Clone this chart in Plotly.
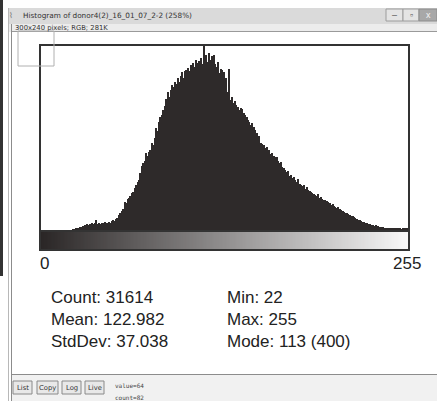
import plotly.graph_objects as go

W, H = 437, 401

# ---- data: histogram counts per gray level (0..255) ----
counts = (
    [0] * 22 +
    [1, 2, 3, 4, 5, 7, 6, 9, 11, 8, 12, 10, 14, 16, 13, 15] +            # 22-37
    [22, 14, 15, 13, 16, 15, 17, 14, 16, 18, 15, 19, 22, 20, 24, 27] +   # 38-53
    [32, 38, 41, 45, 61, 58, 67, 70, 74, 80, 83, 92, 98, 104, 109, 124] +  # 54-69
    [140, 146, 150, 167, 160, 170, 175, 189, 185, 200, 222, 215, 235, 245, 250, 261] +  # 70-85
    [270, 285, 300, 290, 305, 315, 310, 322, 318, 330, 322, 335, 343, 330, 345, 348] +  # 86-101
    [352, 345, 359, 350, 362, 355, 370, 363, 368, 375, 360, 400, 372, 380, 365, 385] +  # 102-117
    [370, 378, 380, 360, 355, 365, 341, 350, 348, 343, 320, 330, 300, 350, 283, 290] +  # 118-133
    [276, 280, 272, 268, 260, 265, 262, 255, 250, 245, 239, 235, 228, 232, 224, 218] +  # 134-149
    [210, 196, 205, 190, 188, 185, 178, 180, 170, 175, 165, 168, 160, 158, 159, 150] +  # 150-165
    [145, 148, 138, 135, 130, 126, 128, 118, 120, 112, 115, 109, 105, 110, 100, 98] +   # 166-181
    [95, 97, 90, 93, 88, 85, 82, 80, 78, 76, 74, 78, 70, 72, 68, 66] +   # 182-197
    [65, 63, 60, 58, 55, 57, 52, 50, 48, 50, 45, 44, 42, 40, 38, 37] +   # 198-213
    [35, 33, 31, 30, 28, 26, 24, 22, 21, 19, 18, 17, 15, 15, 14, 12] +   # 214-229
    [11, 10, 9, 10, 9, 8, 7, 6, 7, 5, 4, 5, 4, 3, 4, 5] +                # 230-245
    [3, 4, 3, 4, 4, 2, 3, 4, 3, 5]                                       # 246-255
)
levels = list(range(256))
range_labels = ["0", "255"]
stats_left = ["Count: 31614", "Mean: 122.982", "StdDev: 37.038"]
stats_right = ["Min: 22", "Max: 255", "Mode: 113 (400)"]
title_text = "Histogram of donor4(2)_16_01_07_2-2 (258%)"
subtitle_text = "300x240 pixels; RGB; 281K"
buttons = ["List", "Copy", "Log", "Live"]
status_lines = ["value=64", "count=82"]


def px(x):
    return x / W


def py(y):
    return 1 - y / H


PLOT_L, PLOT_R, PLOT_T, PLOT_B = 41, 408, 46, 230
GRAD_T, GRAD_B = 232, 249
DARK = "#2e2a2a"

fig = go.Figure()

fig.add_trace(go.Bar(
    x=levels, y=counts, width=1.0,
    marker=dict(color=DARK, line=dict(width=0)),
    xaxis="x", yaxis="y", hoverinfo="x+y", showlegend=False,
))

fig.add_trace(go.Heatmap(
    z=[levels], x=levels, y=[0],
    colorscale=[[0, "#2a2626"], [1, "#f8f8f8"]],
    showscale=False, xaxis="x2", yaxis="y2", hoverinfo="skip",
))

axis_common = dict(showgrid=False, zeroline=False, showticklabels=False,
                   ticks="", showline=True, mirror=True, linecolor="#333333",
                   linewidth=1.5, fixedrange=True)

fig.update_layout(
    width=W, height=H,
    margin=dict(l=0, r=0, t=0, b=0),
    paper_bgcolor="white", plot_bgcolor="white",
    bargap=0,
    xaxis=dict(domain=[px(PLOT_L), px(PLOT_R)], range=[-0.5, 255.5], **axis_common),
    yaxis=dict(domain=[py(PLOT_B), py(PLOT_T)], range=[0, 400], **axis_common),
    xaxis2=dict(domain=[px(PLOT_L), px(PLOT_R)], range=[-0.5, 255.5], anchor="y2", **axis_common),
    yaxis2=dict(domain=[py(GRAD_B), py(GRAD_T)], range=[-0.5, 0.5], anchor="x2", **axis_common),
)

shapes = []
annotations = []


def rect(x0, y0, x1, y1, fill=None, line=None, lw=1):
    shapes.append(dict(type="rect", xref="paper", yref="paper",
                       x0=px(x0), x1=px(x1), y0=py(y1), y1=py(y0),
                       fillcolor=fill if fill else "rgba(0,0,0,0)",
                       line=dict(color=line if line else "rgba(0,0,0,0)", width=lw if line else 0),
                       layer="below" if fill else "above"))


def hline(x0, x1, y, color, w=1):
    shapes.append(dict(type="line", xref="paper", yref="paper",
                       x0=px(x0), x1=px(x1), y0=py(y), y1=py(y),
                       line=dict(color=color, width=w)))


def vline(x, y0, y1, color, w=1):
    shapes.append(dict(type="line", xref="paper", yref="paper",
                       x0=px(x), x1=px(x), y0=py(y0), y1=py(y1),
                       line=dict(color=color, width=w)))


def text(x, y, s, size, color="#222222", anchor="left", family="Liberation Sans, Arial, sans-serif"):
    annotations.append(dict(xref="paper", yref="paper", x=px(x), y=py(y), text=s,
                            showarrow=False, xanchor=anchor, yanchor="middle",
                            font=dict(size=size, color=color, family=family)))


# window chrome
rect(8, 8, 437, 24, fill="#dadada")
rect(8, 24, 437, 32, fill="#ececec")
rect(12, 375, 437, 401, fill="#f1f1f1")
vline(1.5, 0, 276, "#333333", 3)
vline(8.5, 8, 401, "#b8b8b8", 1)
vline(11.5, 24, 401, "#8c8c8c", 1)
hline(12, 437, 31.5, "#9a9a9a", 1)
hline(12, 437, 374.5, "#8c8c8c", 1)
rect(18, 31, 54, 66, line="#b0b0b0", lw=1)

# window buttons
rect(386, 9, 403, 21, fill="#e4e4e4", line="#9c9c9c")
rect(403, 9, 419, 21, fill="#e4e4e4", line="#9c9c9c")
rect(419, 9, 437, 21, fill="#a8a8a8", line="#8c8c8c")
text(394.5, 15, "–", 9, "#555555", "center")
text(411, 15, "▫", 9, "#555555", "center")
text(428, 15, "x", 9, "#f4f4f4", "center")

text(11, 16, "⌇", 8, "#777777", "center")
text(21, 16, title_text, 7.3, "#333333", "left", "DejaVu Sans, sans-serif")
text(13, 27.5, subtitle_text, 6.8, "#333333", "left", "DejaVu Sans, sans-serif")

# range labels
text(38, 263, range_labels[0], 17, "#222222", "left")
text(423, 263, range_labels[1], 17, "#222222", "right")

# stats
for i, s in enumerate(stats_left):
    text(49, 297 + 22 * i, s, 17, "#222222", "left")
for i, s in enumerate(stats_right):
    text(225, 297 + 22 * i, s, 17, "#222222", "left")

# buttons
bx = [(13, 32), (37, 58), (62, 81), (85, 104)]
for (x0, x1), lab in zip(bx, buttons):
    rect(x0, 381, x1, 394, fill="#e8e8e8", line="#8a8a8a")
    text((x0 + x1) / 2, 387.5, lab, 6.8, "#333333", "center", "DejaVu Sans, sans-serif")
text(113, 385, status_lines[0], 6, "#444444", "left", "DejaVu Sans Mono, monospace")
text(113, 397, status_lines[1], 6, "#444444", "left", "DejaVu Sans Mono, monospace")

fig.update_layout(shapes=shapes, annotations=annotations)

fig.write_html("out.html")
